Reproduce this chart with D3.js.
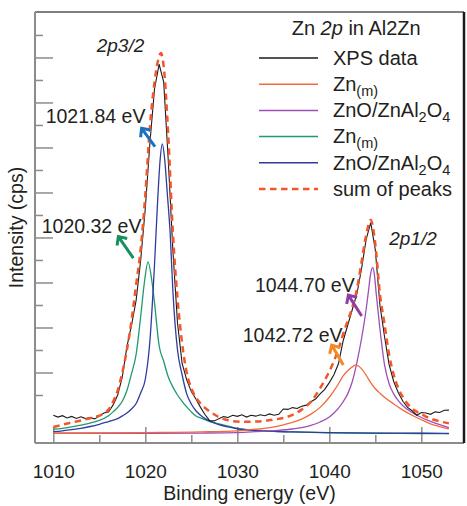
<!DOCTYPE html>
<html>
<head>
<meta charset="utf-8">
<script src="https://cdn.jsdelivr.net/npm/d3@7"></script>
<style>
  body { margin: 0; background: #fff; }
  svg { display: block; font-family: "Liberation Sans", Arial, Helvetica, sans-serif; }
</style>
</head>
<body>
<div id="chart"></div>
<script>
// values: binding energy (eV) and intensity (arbitrary units)
const xpsEnergy = [1010, 1010.5, 1011, 1011.5, 1012, 1012.5, 1013, 1013.5, 1014, 1014.5,
    1015, 1015.5, 1016, 1016.5, 1017, 1017.5, 1018, 1018.5, 1019, 1019.5,
    1020, 1020.5, 1021, 1021.5, 1022, 1022.5, 1023, 1023.5, 1024, 1024.5,
    1025, 1025.5, 1026, 1026.5, 1027, 1027.5, 1028, 1028.5, 1029, 1029.5,
    1030, 1030.5, 1031, 1031.5, 1032, 1032.5, 1033, 1033.5, 1034, 1034.5,
    1035, 1035.5, 1036, 1036.5, 1037, 1037.5, 1038, 1038.5, 1039, 1039.5,
    1040, 1040.5, 1041, 1041.5, 1042, 1042.5, 1043, 1043.5, 1044, 1044.5,
    1045, 1045.5, 1046, 1046.5, 1047, 1047.5, 1048, 1048.5, 1049, 1049.5,
    1050, 1050.5, 1051, 1051.5, 1052, 1052.5, 1053];
const xpsIntensity = [1.1, 1.02, 1.08, 0.98, 1.05, 0.96, 1.03, 0.95, 1.0, 0.94,
    1.06, 1.2, 1.24, 1.56, 2.0, 2.8, 4.15, 5.1, 6.2, 8.0,
    10.3, 13.2, 15.6, 16.7, 15.9, 12.4, 8.4, 5.2, 3.4, 2.67,
    2.15, 1.82, 1.45, 1.12, 0.86, 0.85, 0.95, 1.04, 1.0, 1.1,
    1.05, 1.12, 1.02, 1.1, 1.06, 1.12, 1.08, 1.16, 1.1, 1.14,
    1.38, 1.36, 1.44, 1.4, 1.5, 1.55, 1.7, 1.82, 2.05, 2.25,
    2.55, 2.9, 3.4, 4.4, 5.1, 5.8, 6.5, 7.6, 8.9, 9.66,
    8.45, 6.0, 4.6, 3.35, 2.6, 2.1, 1.72, 1.45, 1.3, 1.1,
    1.22, 1.2, 1.14, 1.25, 1.22, 1.32, 1.33];

// Zn(m), 2p1/2 (orange)
const znM12Energy = [1010, 1020, 1026, 1030, 1032, 1034, 1035, 1036, 1037, 1038, 1039, 1040,
    1040.5, 1041, 1041.5, 1042, 1042.5, 1042.8, 1043.2, 1043.6, 1044, 1044.5, 1045,
    1045.5, 1046, 1047, 1048, 1049, 1050, 1051, 1052, 1053];
const znM12Intensity = [0.3, 0.33, 0.36, 0.41, 0.48, 0.58, 0.67, 0.78, 0.93, 1.15, 1.45, 1.9,
    2.18, 2.5, 2.85, 3.08, 3.25, 3.33, 3.28, 3.12, 2.88, 2.55, 2.28,
    2.08, 1.9, 1.6, 1.33, 1.1, 0.9, 0.72, 0.6, 0.49];

// ZnO/ZnAl2O4, 2p1/2 (purple)
const znO12Energy = [1010, 1020, 1026, 1030, 1032, 1034, 1036, 1037, 1038, 1039, 1040, 1040.5,
    1041, 1041.5, 1042, 1042.5, 1043, 1043.5, 1044, 1044.25, 1044.5, 1044.7, 1044.9,
    1045.1, 1045.5, 1046, 1046.5, 1047, 1047.5, 1048, 1049, 1050, 1051, 1052, 1053];
const znO12Intensity = [0.3, 0.3, 0.31, 0.33, 0.37, 0.42, 0.49, 0.55, 0.65, 0.8, 1.02, 1.2,
    1.42, 1.7, 2.05, 2.6, 3.45, 4.5, 5.8, 6.6, 7.4, 7.67, 7.35,
    6.5, 4.95, 3.35, 2.5, 2.05, 1.75, 1.52, 1.22, 1.0, 0.83, 0.68, 0.55];

// Zn(m), 2p3/2 (green)
const znM32Energy = [1010, 1011, 1012, 1013, 1014, 1015, 1016, 1016.5, 1017, 1017.5, 1018,
    1018.5, 1019, 1019.5, 1019.9, 1020.3, 1020.7, 1021, 1021.5, 1022, 1022.5, 1023,
    1023.5, 1024, 1024.5, 1025, 1025.5, 1026, 1027, 1028, 1029, 1030, 1032, 1034,
    1036, 1040, 1045, 1050, 1053];
const znM32Intensity = [0.48, 0.52, 0.58, 0.66, 0.75, 0.87, 1.08, 1.25, 1.45, 1.72, 2.2,
    2.95, 3.8, 5.5, 7.0, 7.92, 7.1, 6.1, 4.2, 3.5, 2.8, 2.35,
    2.0, 1.72, 1.47, 1.25, 1.07, 0.98, 0.82, 0.72, 0.62, 0.52, 0.44, 0.39,
    0.36, 0.32, 0.3, 0.29, 0.28];

// ZnO/ZnAl2O4, 2p3/2 (blue)
const znO32Energy = [1010, 1011, 1012, 1013, 1014, 1015, 1016, 1016.5, 1017, 1017.5, 1018,
    1018.5, 1019, 1019.5, 1020, 1020.5, 1021, 1021.3, 1021.6, 1021.85, 1022.1, 1022.4,
    1022.7, 1023, 1023.5, 1024, 1024.5, 1025, 1025.5, 1026, 1026.5, 1027, 1028, 1029,
    1030, 1032, 1034, 1036, 1040, 1045, 1050, 1053];
const znO32Intensity = [0.37, 0.41, 0.46, 0.52, 0.6, 0.7, 0.82, 0.88, 0.95, 1.07, 1.2,
    1.38, 1.62, 2.1, 2.7, 4.4, 7.8, 10.3, 12.4, 13.16, 12.5, 10.9,
    9.2, 6.6, 4.0, 2.9, 2.05, 1.6, 1.3, 1.1, 0.95, 0.85, 0.68, 0.58,
    0.5, 0.42, 0.38, 0.36, 0.33, 0.31, 0.3, 0.29];

// sum of fitted peaks (dashed)
const sumEnergy = [1010, 1011, 1012, 1013, 1014, 1015, 1015.5, 1016, 1016.5, 1017, 1017.5,
    1018, 1018.5, 1019, 1019.5, 1020, 1020.5, 1021, 1021.4, 1021.7, 1022, 1022.5, 1023,
    1023.5, 1024, 1024.5, 1025, 1025.5, 1026, 1027, 1028, 1029, 1030, 1031, 1032, 1033,
    1034, 1035, 1036, 1037, 1038, 1039, 1040, 1040.5, 1041, 1041.5, 1042, 1042.5, 1043,
    1043.5, 1044, 1044.5, 1045, 1045.5, 1046, 1046.5, 1047, 1047.5, 1048, 1049, 1050,
    1051, 1052, 1053];
const sumIntensity = [0.58, 0.68, 0.78, 0.87, 0.97, 1.08, 1.18, 1.35, 1.7, 2.2, 3.0,
    4.0, 5.3, 6.9, 8.5, 10.9, 13.9, 15.9, 16.9, 17.2, 16.6, 13.5, 9.2,
    6.3, 4.3, 3.0, 2.3, 1.9, 1.62, 1.27, 1.02, 0.88, 0.82, 0.81, 0.82, 0.85,
    0.91, 0.98, 1.12, 1.35, 1.7, 2.3, 3.05, 3.5, 4.05, 4.7, 5.3, 5.9, 6.7,
    7.9, 9.1, 9.78, 8.7, 6.5, 5.15, 3.8, 2.9, 2.3, 1.9, 1.4, 1.15,
    0.95, 0.83, 0.74];

const xTicks = [1010, 1020, 1030, 1040, 1050];
const xMinorTicks = [1015, 1025, 1035, 1045];
const yMajorTicks = [3, 5, 7, 9, 11, 13, 15, 17];
const yMinorTicks = [2, 4, 6, 8, 10, 12, 14, 16, 18];

const peakLabels = ["1021.84 eV", "1020.32 eV", "1044.70 eV", "1042.72 eV"];
const orbitalLabels = ["2p3/2", "2p1/2"];

// ---------------------------------------------------------------
const W = 467, H = 506;
const margin = {top: 12, right: 3, bottom: 63, left: 35};
const innerW = W - margin.left - margin.right;
const innerH = H - margin.top - margin.bottom;

const svg = d3.select("#chart").append("svg")
    .attr("width", W)
    .attr("height", H);

const g = svg.append("g")
    .attr("transform", `translate(${margin.left},${margin.top})`);

const x = d3.scaleLinear().domain([1008.01, 1054.64]).range([0, innerW]);
const y = d3.scaleLinear().domain([-0.133, 19.02]).range([innerH, 0]);

const axisGrey = "#8c8c8c";

// inward ticks
g.append("g")
    .attr("transform", `translate(0,${innerH})`)
    .call(d3.axisTop(x).tickValues(xTicks).tickSize(16).tickFormat(""));
g.append("g")
    .attr("transform", `translate(0,${innerH})`)
    .call(d3.axisTop(x).tickValues(xMinorTicks).tickSize(8).tickFormat(""));
g.append("g")
    .call(d3.axisRight(y).tickValues(yMajorTicks).tickSize(18).tickFormat(""));
g.append("g")
    .call(d3.axisRight(y).tickValues(yMinorTicks).tickSize(8).tickFormat(""));

// tick labels under the frame
g.append("g")
    .attr("class", "xlabels")
    .attr("transform", `translate(0,${innerH})`)
    .call(d3.axisBottom(x).tickValues(xTicks).tickSize(0).tickPadding(21.5).tickFormat(d3.format("d")));

g.selectAll(".domain").remove();
g.selectAll(".tick line").attr("stroke", axisGrey).attr("stroke-width", 1.5);
g.selectAll(".xlabels text")
    .attr("font-size", 19)
    .attr("font-family", "'Liberation Sans', Arial, sans-serif")
    .attr("fill", "#231f20");

// curves
const series = [
    {E: znM32Energy, I: znM32Intensity, color: "#1f9a6e", w: 1.3},
    {E: znO32Energy, I: znO32Intensity, color: "#2f3c9c", w: 1.3},
    {E: znO12Energy, I: znO12Intensity, color: "#9d4fb6", w: 1.3},
    {E: znM12Energy, I: znM12Intensity, color: "#f26a3c", w: 1.3},
    {E: xpsEnergy, I: xpsIntensity, color: "#1a1a1a", w: 1.1, curve: d3.curveLinear},
    {E: sumEnergy, I: sumIntensity, color: "#f2572b", w: 2.5, dash: "6.5,4.5"}
];

const plot = g.append("g");
series.forEach(s => {
    const line = d3.line()
        .x((d, i) => x(s.E[i]))
        .y(d => y(d))
        .curve(s.curve || d3.curveMonotoneX);
    plot.append("path")
        .datum(s.I)
        .attr("d", line)
        .attr("fill", "none")
        .attr("stroke", s.color)
        .attr("stroke-width", s.w)
        .attr("stroke-dasharray", s.dash || null);
});

// frame
g.append("line").attr("x1", 0).attr("x2", innerW).attr("y1", 0).attr("y2", 0)
    .attr("stroke", "#555").attr("stroke-width", 1.5);
g.append("line").attr("x1", 0).attr("x2", 0).attr("y1", 0).attr("y2", innerH)
    .attr("stroke", axisGrey).attr("stroke-width", 2);
g.append("line").attr("x1", 0).attr("x2", innerW).attr("y1", innerH).attr("y2", innerH)
    .attr("stroke", axisGrey).attr("stroke-width", 2);
g.append("line").attr("x1", innerW).attr("x2", innerW).attr("y1", 0).attr("y2", innerH)
    .attr("stroke", "#1a1a1a").attr("stroke-width", 2.5);

// axis titles
svg.append("text")
    .attr("x", margin.left + innerW / 2)
    .attr("y", 500)
    .attr("text-anchor", "middle")
    .attr("font-size", 19.5)
    .attr("fill", "#231f20")
    .text("Binding energy (eV)");

svg.append("text")
    .attr("transform", `translate(23,${margin.top + innerH / 2}) rotate(-90)`)
    .attr("text-anchor", "middle")
    .attr("font-size", 19.5)
    .attr("fill", "#231f20")
    .text("Intensity (cps)");

// peak annotations (label anchor + arrow tail/head in data coordinates)
const notes = [
    {label: peakLabels[0], lx: 1009.17, ly: 14.1, tail: [1021.05, 13.04], head: [1019.6, 13.85], color: "#1f6fc0"},
    {label: peakLabels[1], lx: 1008.74, ly: 9.19, tail: [1018.7, 8.08], head: [1017.07, 9.04], color: "#15905f"},
    {label: peakLabels[2], lx: 1031.92, ly: 6.59, tail: [1043.52, 5.51], head: [1042.07, 6.44], color: "#8e3fa6"},
    {label: peakLabels[3], lx: 1030.59, ly: 4.37, tail: [1041.52, 3.33], head: [1040.26, 4.22], color: "#f28a25"}
];

notes.forEach(n => {
    g.append("text")
        .attr("x", x(n.lx))
        .attr("y", y(n.ly))
        .attr("font-size", 19.5)
        .attr("fill", "#231f20")
        .text(n.label);

    const x1 = x(n.tail[0]), y1 = y(n.tail[1]);
    const x2 = x(n.head[0]), y2 = y(n.head[1]);
    const ang = Math.atan2(y2 - y1, x2 - x1);
    const L = 9, a = 0.75;
    const p = d3.path();
    p.moveTo(x1, y1);
    p.lineTo(x2, y2);
    p.moveTo(x2 - L * Math.cos(ang - a), y2 - L * Math.sin(ang - a));
    p.lineTo(x2, y2);
    p.lineTo(x2 - L * Math.cos(ang + a), y2 - L * Math.sin(ang + a));
    g.append("path")
        .attr("d", p.toString())
        .attr("fill", "none")
        .attr("stroke", n.color)
        .attr("stroke-width", 3)
        .attr("stroke-linejoin", "miter");
});

// orbital labels
[[orbitalLabels[0], 1014.72, 17.24], [orbitalLabels[1], 1046.52, 8.67]].forEach(o => {
    g.append("text")
        .attr("x", x(o[1]))
        .attr("y", y(o[2]))
        .attr("font-size", 19)
        .attr("font-style", "italic")
        .attr("fill", "#231f20")
        .text(o[0]);
});

// legend
const legendItems = [
    {parts: [["XPS data", 0]], color: "#1a1a1a"},
    {parts: [["Zn", 0], ["(m)", 1]], color: "#f26a3c"},
    {parts: [["ZnO/ZnAl", 0], ["2", 1], ["O", 0], ["4", 1]], color: "#9d4fb6"},
    {parts: [["Zn", 0], ["(m)", 1]], color: "#1f9a6e"},
    {parts: [["ZnO/ZnAl", 0], ["2", 1], ["O", 0], ["4", 1]], color: "#2f3c9c"},
    {parts: [["sum of peaks", 0]], color: "#f2572b", dash: "6.5,4.5"}
];

const legend = svg.append("g");
const title = legend.append("text")
    .attr("x", 291.7)
    .attr("y", 35)
    .attr("font-size", 20)
    .attr("fill", "#231f20");
title.append("tspan").text("Zn ");
title.append("tspan").attr("font-style", "italic").text("2p");
title.append("tspan").text(" in Al2Zn");

legendItems.forEach((d, i) => {
    const ry = 58 + i * 26.2;
    legend.append("line")
        .attr("x1", 259).attr("x2", 318)
        .attr("y1", ry).attr("y2", ry)
        .attr("stroke", d.color)
        .attr("stroke-width", d.dash ? 2.5 : 1.5)
        .attr("stroke-dasharray", d.dash || null);
    const t = legend.append("text")
        .attr("x", 333)
        .attr("y", ry + 6.8)
        .attr("font-size", 20)
        .attr("fill", "#231f20");
    d.parts.forEach(pt => {
        const ts = t.append("tspan").text(pt[0]);
        if (pt[1]) ts.attr("font-size", 14.5).attr("dy", 5);
        else if (t.selectAll("tspan").size() > 1) ts.attr("dy", -5);
    });
});
</script>
</body>
</html>
